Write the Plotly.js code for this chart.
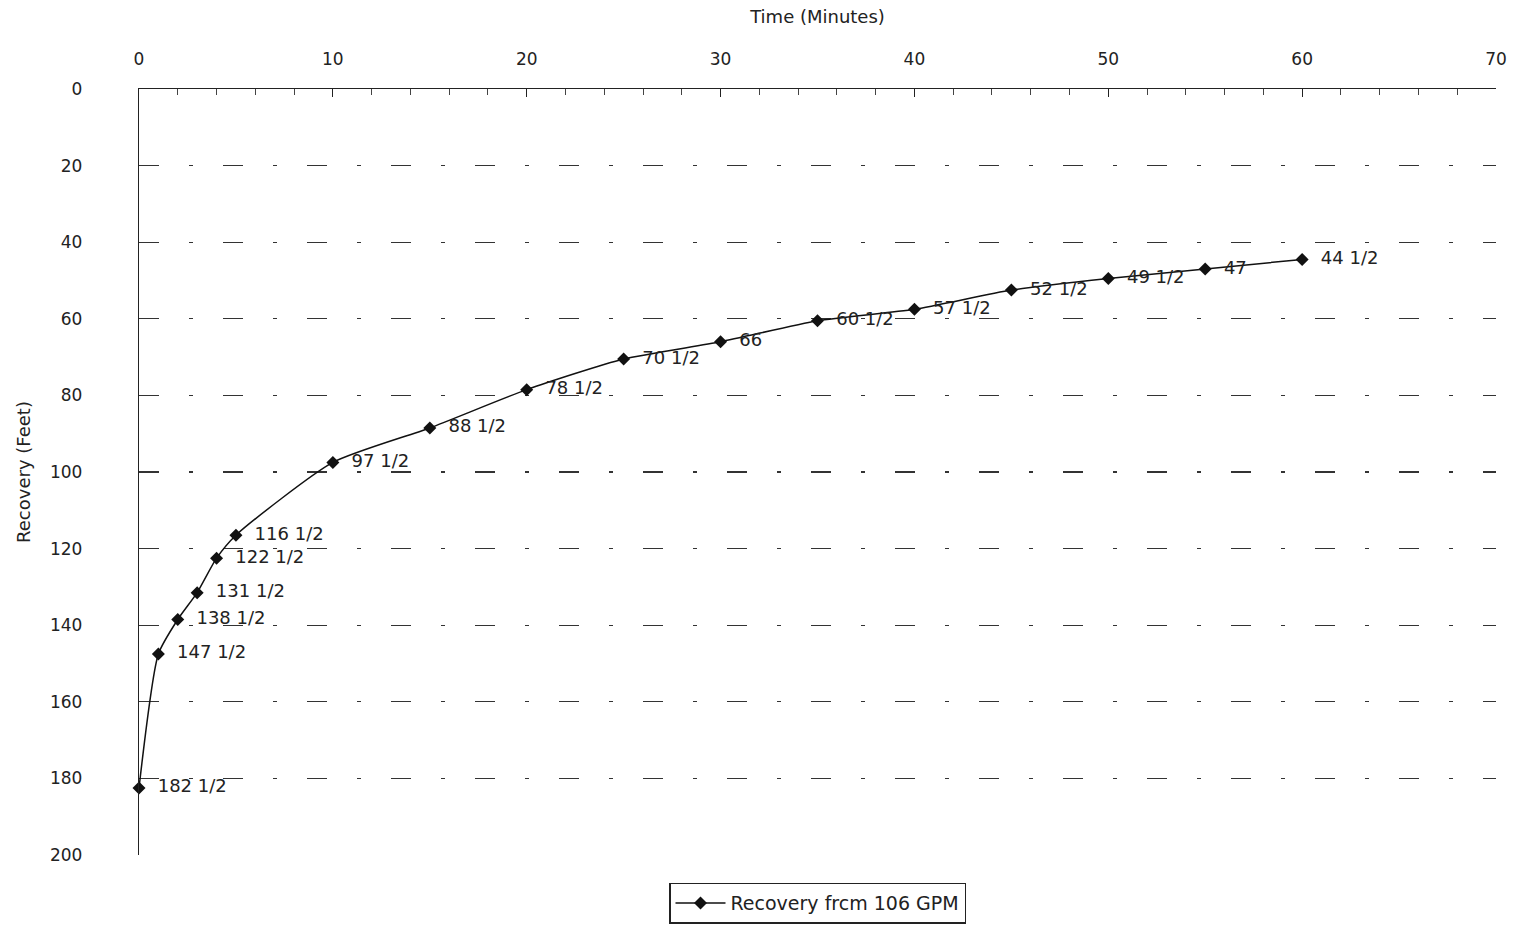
<!DOCTYPE html>
<html>
<head>
<meta charset="utf-8">
<script src="https://cdn.plot.ly/plotly-3.0.1.min.js"></script>
<style>html,body{margin:0;padding:0;background:#fff;}#chart{width:1522px;height:928px;}</style>
</head>
<body>
<div id="chart"></div>
<script>
var timeMinutes = [0, 1, 2, 3, 4, 5, 10, 15, 20, 25, 30, 35, 40, 45, 50, 55, 60];
var recoveryFeet = [182.5, 147.5, 138.5, 131.5, 122.5, 116.5, 97.5, 88.5, 78.5, 70.5, 66, 60.5, 57.5, 52.5, 49.5, 47, 44.5];
var pointLabels = ["182 1/2", "147 1/2", "138 1/2", "131 1/2", "122 1/2", "116 1/2", "97 1/2", "88 1/2", "78 1/2", "70 1/2", "66", "60 1/2", "57 1/2", "52 1/2", "49 1/2", "47", "44 1/2"];
var seriesName = "Recovery frcm 106 GPM";

var FONT = 'DejaVu Sans, Liberation Sans, Arial, sans-serif';

var trace = {
  x: timeMinutes,
  y: recoveryFeet,
  text: pointLabels,
  texttemplate: '  %{text}',
  type: 'scatter',
  mode: 'lines+markers+text',
  name: seriesName,
  textposition: 'middle right',
  textfont: {family: FONT, size: 18, color: '#222'},
  line: {color: '#111', width: 1.5, shape: 'spline', smoothing: 0.6},
  marker: {symbol: 'diamond', size: 10, color: '#111'},
  cliponaxis: false
};

var layout = {
  width: 1522, height: 928,
  margin: {l: 139, r: 26, t: 89, b: 73, autoexpand: false},
  paper_bgcolor: '#fff', plot_bgcolor: '#fff',
  font: {family: FONT, size: 17, color: '#222'},
  showlegend: true,
  legend: {
    x: 0.5, xanchor: 'center', y: -0.036, yanchor: 'top',
    bordercolor: '#222', borderwidth: 1.5,
    itemwidth: 50,
    font: {family: FONT, size: 19, color: '#222'}
  },
  xaxis: {
    side: 'top', range: [0, 70], dtick: 10,
    title: {text: 'Time (Minutes)', standoff: 20, font: {family: FONT, size: 18}},
    showline: true, linecolor: '#222', linewidth: 1.2,
    ticks: 'inside', ticklen: 8, tickcolor: '#222',
    ticklabelstandoff: 16,
    minor: {dtick: 2, ticks: 'inside', ticklen: 6, tickcolor: '#444', showgrid: false},
    showgrid: false, zeroline: false, automargin: false,
    tickfont: {family: FONT, size: 17, color: '#222'}
  },
  yaxis: {
    range: [200, 0], dtick: 20,
    title: {text: 'Recovery (Feet)', standoff: 14, font: {family: FONT, size: 18}},
    showline: true, linecolor: '#222', linewidth: 1.2,
    ticks: '', ticklabelstandoff: 52,
    showgrid: true, gridcolor: '#333', gridwidth: 1.2, griddash: '20px,30px,4px,30px',
    zeroline: false, automargin: false,
    tickfont: {family: FONT, size: 17, color: '#222'}
  }
};

Plotly.newPlot('chart', [trace], layout, {displayModeBar: false, staticPlot: true});
</script>
</body>
</html>
